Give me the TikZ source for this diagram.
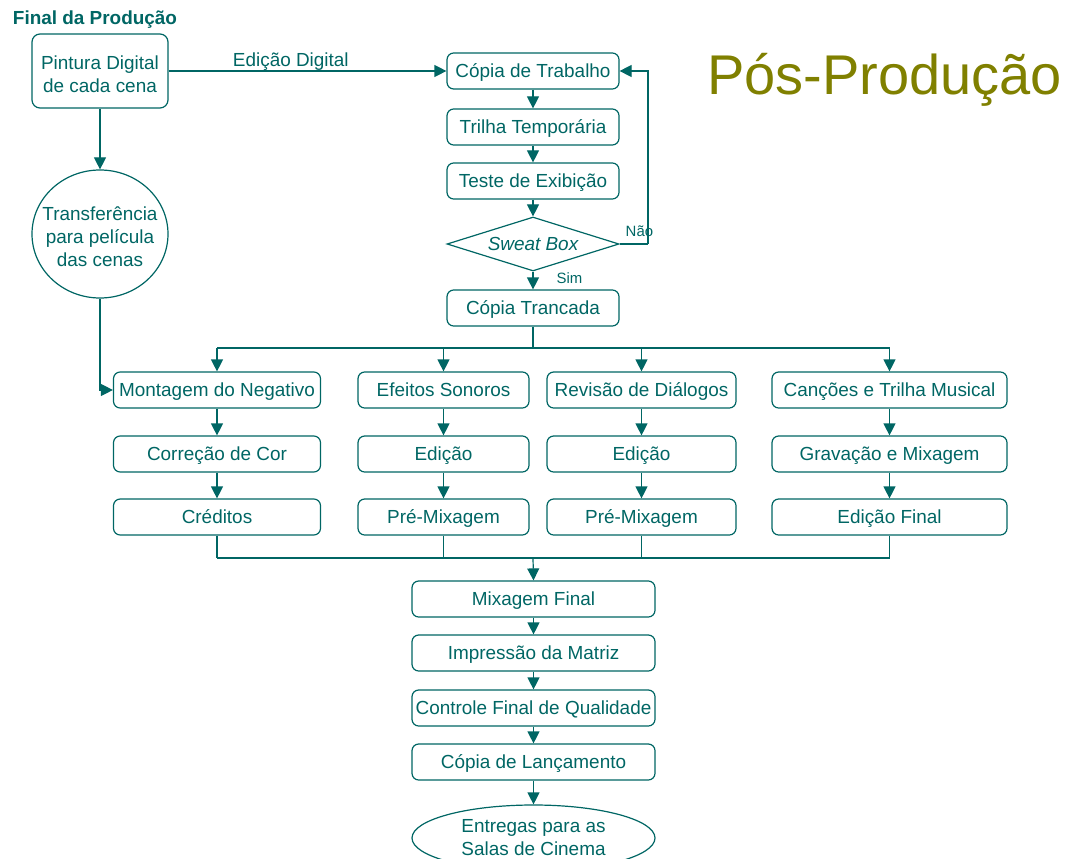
\documentclass[tikz,border=0pt]{standalone}
\usepackage{fontspec}
\setmainfont{Liberation Sans}
\usetikzlibrary{arrows.meta,shapes.geometric}
\definecolor{tealline}{RGB}{0,102,100}
\definecolor{titleolive}{RGB}{128,128,0}
% centred multi-line text that takes no room of its own
\newcommand{\stack}[2][3.5pt]{\raisebox{-#1}[0pt][0pt]{\makebox[0pt]{\begin{tabular}{@{}c@{}}#2\end{tabular}}}}
\begin{document}
\begin{tikzpicture}[x=0.75pt,y=-0.75pt,
  every node/.style={text=tealline, font=\fontsize{14.2}{17.25}\selectfont},
  framed/.style={draw=tealline, line width=0.9pt},
  stepbox/.style={framed, rounded corners=5pt,
    minimum height=36*0.75pt, inner sep=1pt, align=center},
  onebox/.style={stepbox, text height=10.2pt, text depth=0pt},
  colA/.style={onebox, minimum width=207*0.75pt},
  colB/.style={onebox, minimum width=171*0.75pt},
  colC/.style={onebox, minimum width=189*0.75pt},
  colD/.style={onebox, minimum width=235*0.75pt},
  midbox/.style={onebox, minimum width=172*0.75pt},
  lowbox/.style={onebox, minimum width=243*0.75pt},
  small/.style={font=\fontsize{11.2}{13}\selectfont},
  link/.style={draw=tealline, line width=0.9pt},
  arr/.style={link, -{Triangle[length=9pt,width=9pt]}}
]
\useasboundingbox (0,0) rectangle (1070,859);

% headings
\node[font=\bfseries\fontsize{14.2}{17.25}\selectfont] (fim) at (95,20) {Final da Produção};
\node[text=titleolive, font=\fontsize{42}{50}\selectfont, anchor=base] (titulo) at (884.5,95) {Pós-Produção};

% left branch
\node[stepbox, rounded corners=6pt, minimum width=136*0.75pt, minimum height=74*0.75pt] (pintura) at (100,71) {\stack[7.5pt]{Pintura Digital\\de cada cena}};
\node[framed, ellipse, minimum width=136*0.75pt, minimum height=128*0.75pt, inner sep=0pt] (transf) at (100,234) {\stack[7.5pt]{Transferência\\para película\\das cenas}};

% central approval loop
\node[midbox] (copia) at (533,71) {Cópia de Trabalho};
\node[midbox] (trilha) at (533,127) {Trilha Temporária};
\node[midbox] (teste) at (533,181) {Teste de Exibição};
\node[framed, diamond, minimum width=172*0.75pt, minimum height=54*0.75pt, inner sep=0pt] (sweat) at (533,244) {\makebox[0pt]{\itshape Sweat Box}};
\node[midbox] (trancada) at (533,308) {Cópia Trancada};

% four parallel columns
\node[colA] (a1) at (217,390) {Montagem do Negativo};
\node[colA] (a2) at (217,454) {Correção de Cor};
\node[colA] (a3) at (217,517) {Créditos};
\node[colB] (b1) at (443.5,390) {Efeitos Sonoros};
\node[colB] (b2) at (443.5,454) {Edição};
\node[colB] (b3) at (443.5,517) {Pré-Mixagem};
\node[colC] (c1) at (641.5,390) {Revisão de Diálogos};
\node[colC] (c2) at (641.5,454) {Edição};
\node[colC] (c3) at (641.5,517) {Pré-Mixagem};
\node[colD] (d1) at (889.5,390) {Canções e Trilha Musical};
\node[colD] (d2) at (889.5,454) {Gravação e Mixagem};
\node[colD] (d3) at (889.5,517) {Edição Final};

% final chain
\node[lowbox] (mix) at (533.5,599) {Mixagem Final};
\node[lowbox] (matriz) at (533.5,653) {Impressão da Matriz};
\node[lowbox] (controle) at (533.5,708) {Controle Final de Qualidade};
\node[lowbox] (lanc) at (533.5,762) {Cópia de Lançamento};
\node[framed, ellipse, minimum width=243*0.75pt, minimum height=66*0.75pt, inner sep=0pt] (salas) at (533.5,838) {\stack[5pt]{Entregas para as\\Salas de Cinema}};

% junction points
\coordinate (split) at (533,348);
\coordinate (merge) at (533,558);
\coordinate (loopR) at (648,244);

% connectors: left branch
\draw[arr] (pintura.east) -- node[above, pos=0.44, inner sep=0pt] (edig) {Edição Digital} (copia.west);
\draw[arr] (pintura.south) -- (transf.north);
\draw[arr] (transf.south) |- (a1.west);

% connectors: approval loop
\draw[arr] (copia) -- (trilha);
\draw[arr] (trilha) -- (teste);
\draw[arr] (teste) -- (sweat);
\draw[arr] (sweat) -- node[right, small, pos=0.35, xshift=14pt] (sim) {Sim} (trancada);
\draw[link] (sweat.east) -- (loopR);
\draw[arr] (loopR) |- (copia.east);
\node[small, anchor=base west] (nao) at (621,237) {Não};

% split into the four columns
\draw[link] (trancada.south) -- (split);
\draw[link] (a1.north |- split) -- (d1.north |- split);
\draw[arr] (a1.north |- split) -- (a1.north);
\draw[arr] (b1.north |- split) -- (b1.north);
\draw[arr] (c1.north |- split) -- (c1.north);
\draw[arr] (d1.north |- split) -- (d1.north);

\foreach \c in {a,b,c,d}{
  \draw[arr] (\c1) -- (\c2);
  \draw[arr] (\c2) -- (\c3);
  \draw[link] (\c3.south) -- (\c3.south |- merge);
}
\draw[link] (a3.south |- merge) -- (d3.south |- merge);
\draw[arr] (merge) -- (mix.north);

% final chain connectors
\draw[arr] (mix) -- (matriz);
\draw[arr] (matriz) -- (controle);
\draw[arr] (controle) -- (lanc);
\draw[arr] (lanc) -- (salas);
\end{tikzpicture}
\end{document}
